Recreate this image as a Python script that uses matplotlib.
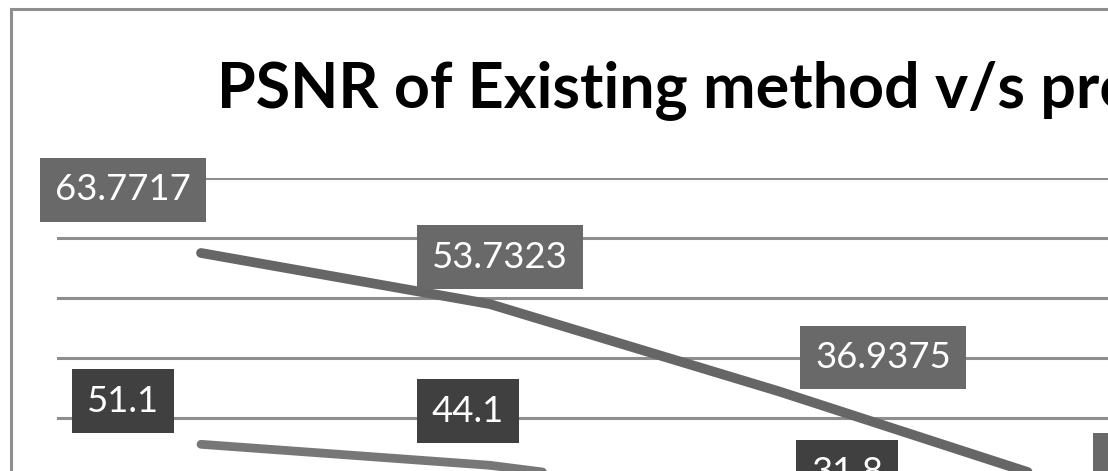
"""PSNR of existing vs proposed method: stacked line chart (cropped view)."""
import matplotlib
matplotlib.use("Agg")
import matplotlib.pyplot as plt
from matplotlib.patches import Rectangle

W, H, DPI = 1108, 471, 100

# data
categories = ["1", "2", "3", "4"]
proposed = [63.7717, 53.7323, 36.9375, 19.9]   # top series (stacked on existing)
existing = [51.1, 44.1, 31.8, 17.6]
proposed_labels = ["63.7717", "53.7323", "36.9375", "19.9"]
existing_labels = ["51.1", "44.1", "31.8", "17.6"]
y_ticks = [0, 20, 40, 60, 80, 100, 120, 140]

# label offsets from their points, in pixels (dx, dy up)
PROP_OFF = [(-78, 63), (10, 47), (104, 34), (76, 20)]
EXIST_OFF = [(-78, 43), (-22, 54), (68, 30), (68, 30)]

GRID = "#8e8e8e"
C_PROP_LINE = "#666666"
C_PROP_BOX = "#696969"
C_EXIST_LINE = "#777777"
C_EXIST_BOX = "#404040"

fig = plt.figure(figsize=(W / DPI, H / DPI), dpi=DPI)

# plot area (extends past the cropped figure edge)
left_px, slot_px = 56.5, 289
zero_from_top, px_per_unit = 597.6, 3.0
ymax = y_ticks[-1]
bottom = (H - zero_from_top) / H
height = ymax * px_per_unit / H
ax = fig.add_axes([left_px / W, bottom, len(categories) * slot_px / W, height])
ax.set_xlim(-0.5, len(categories) - 0.5)
ax.set_ylim(0, ymax)
for s in ax.spines.values():
    s.set_visible(False)
ax.set_xticks([])
ax.set_yticks([])
ax.patch.set_alpha(0)
for t in y_ticks:
    ax.axhline(t, color=GRID, lw=2.2, zorder=1)

x = list(range(len(categories)))
stacked = [p + e for p, e in zip(proposed, existing)]
ax.plot(x, existing, color=C_EXIST_LINE, lw=6.3, solid_capstyle="round",
        solid_joinstyle="round", zorder=3, clip_on=False)
ax.plot(x, stacked, color=C_PROP_LINE, lw=7.0, solid_capstyle="round",
        solid_joinstyle="round", zorder=3, clip_on=False)

lab_kw = dict(textcoords="offset pixels", ha="center", va="center",
              color="white", fontsize=26.3, family="Lato", zorder=5,
              annotation_clip=False)
for xi, yi, txt, off in zip(x, stacked, proposed_labels, PROP_OFF):
    ax.annotate(txt, (xi, yi), xytext=off,
                bbox=dict(boxstyle="square,pad=0.42", fc=C_PROP_BOX, ec="none"),
                **lab_kw)
for xi, yi, txt, off in zip(x, existing, existing_labels, EXIST_OFF):
    ax.annotate(txt, (xi, yi), xytext=off,
                bbox=dict(boxstyle="square,pad=0.42", fc=C_EXIST_BOX, ec="none"),
                **lab_kw)

# chart border
fig.patches.append(Rectangle((11 / W, -0.1), 1.2, (H - 9) / H + 0.1,
                             transform=fig.transFigure, fill=False,
                             ec=GRID, lw=2.2, zorder=0))

# title, sized so the visible part spans the same width as the reference
title = "PSNR of Existing method v/s proposed method"
renderer = fig.canvas.get_renderer()
probe = fig.text(0, 0, "PSNR of Existing method v/s pr", fontsize=40,
                 fontweight="bold", family="Lato")
w = probe.get_window_extent(renderer).width
probe.remove()
fig.text(217 / W, (H - 107) / H, title, fontsize=40 * 883 / w,
         fontweight="bold", family="Lato", ha="left", va="baseline")

fig.savefig("out.png", dpi=DPI)
